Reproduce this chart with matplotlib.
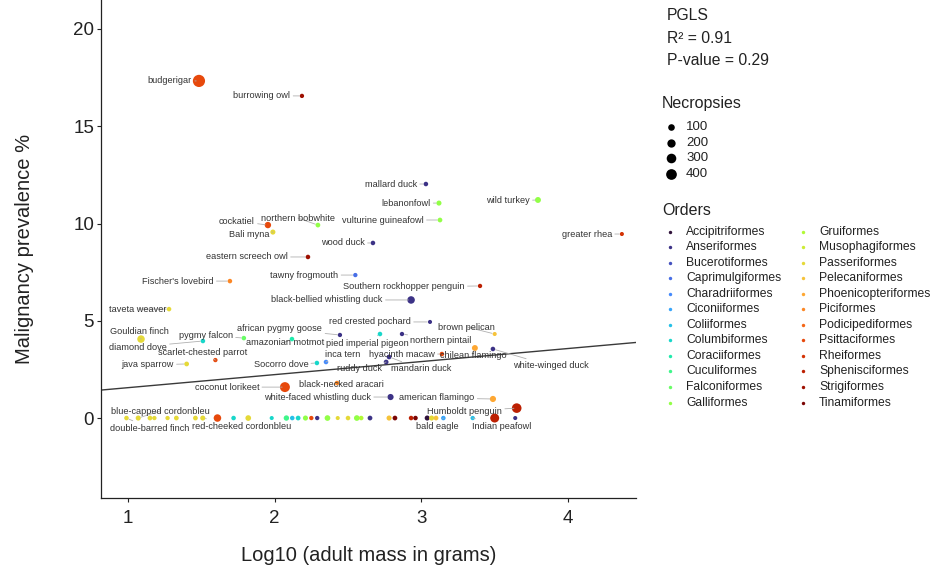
import numpy as np
import matplotlib
matplotlib.use("Agg")
import matplotlib.pyplot as plt

plt.rcParams['font.family'] = ['Liberation Sans', 'DejaVu Sans']

# ---------------- data ----------------
orders = ["Accipitriformes", "Anseriformes", "Bucerotiformes", "Caprimulgiformes",
          "Charadriiformes", "Ciconiiformes", "Coliiformes", "Columbiformes",
          "Coraciiformes", "Cuculiformes", "Falconiformes", "Galliformes",
          "Gruiformes", "Musophagiformes", "Passeriformes", "Pelecaniformes",
          "Phoenicopteriformes", "Piciformes", "Podicipediformes", "Psittaciformes",
          "Rheiformes", "Sphenisciformes", "Strigiformes", "Tinamiformes"]

species = ["budgerigar", "burrowing owl", "mallard duck", "lebanonfowl", "vulturine guineafowl",
           "wild turkey", "greater rhea", "cockatiel", "northern bobwhite", "Bali myna",
           "wood duck", "eastern screech owl", "Fischer's lovebird", "tawny frogmouth",
           "Southern rockhopper penguin", "black-bellied whistling duck", "taveta weaver",
           "red crested pochard", "brown pelican", "Gouldian finch", "pygmy falcon",
           "african pygmy goose", "diamond dove", "amazonian motmot", "pied imperial pigeon",
           "northern pintail", "scarlet-chested parrot", "java sparrow", "Socorro dove",
           "inca tern", "hyacinth macaw", "chilean flamingo", "ruddy duck", "mandarin duck",
           "white-winged duck", "black-necked aracari", "coconut lorikeet",
           "white-faced whistling duck", "american flamingo", "Humboldt penguin",
           # zero-prevalence row
           "double-barred finch", "blue-capped cordonbleu", "", "", "", "", "",
           "red-cheeked cordonbleu", "", "", "", "", "", "", "", "", "", "", "", "", "",
           "", "", "", "", "", "", "", "", "", "", "bald eagle", "Indian peafowl", ""]

log_mass = [1.484, 2.186, 3.031, 3.120, 3.127,
            3.795, 4.367, 1.954, 2.295, 1.988,
            2.670, 2.227, 1.695, 2.550,
            3.400, 2.930, 1.280,
            3.059, 3.500, 1.089, 1.790,
            2.445, 1.511, 2.118, 2.718,
            2.868, 1.596, 1.400, 2.288,
            2.350, 3.140, 3.365, 2.760, 2.780,
            3.488, 2.425, 2.070,
            2.790, 3.488, 3.650,
            0.990, 1.070, 1.150, 1.180, 1.270, 1.330, 1.460,
            1.510, 1.610, 1.720, 1.820, 1.980, 2.080, 2.120, 2.160, 2.210, 2.250, 2.290, 2.360,
            2.430, 2.500, 2.560, 2.590, 2.650, 2.780, 2.820, 2.930, 2.960, 3.040,
            3.070, 3.100, 3.150, 3.350, 3.500, 3.640]

prevalence = [17.33, 16.56, 12.03, 11.05, 10.18,
              11.21, 9.46, 9.92, 9.92, 9.56,
              9.00, 8.28, 7.04, 7.35,
              6.79, 6.07, 5.60,
              4.94, 4.32, 4.06, 4.11,
              4.27, 3.96, 4.06, 4.32,
              4.32, 2.98, 2.78, 2.83,
              2.88, 3.29, 3.60, 2.88, 3.14,
              3.55, 1.80, 1.59,
              1.08, 0.98, 0.51,
              0, 0, 0, 0, 0, 0, 0,
              0, 0, 0, 0, 0, 0, 0, 0, 0, 0, 0, 0,
              0, 0, 0, 0, 0, 0, 0, 0, 0, 0,
              0, 0, 0, 0, 0, 0]

necropsies = [560, 20, 25, 40, 30,
              70, 15, 90, 30, 40,
              25, 25, 25, 20,
              20, 150, 25,
              15, 15, 150, 25,
              20, 25, 25, 25,
              20, 20, 30, 25,
              25, 25, 70, 30, 30,
              25, 25, 330,
              80, 80, 300,
              25, 40, 30, 20, 20, 30, 30,
              40, 150, 25, 60, 15, 50, 25, 30, 40, 20, 20, 60,
              15, 25, 60, 25, 30, 40, 30, 25, 25, 40,
              40, 30, 25, 20, 250, 15]

species_order = ["Psittaciformes", "Strigiformes", "Anseriformes", "Galliformes", "Galliformes",
                 "Galliformes", "Rheiformes", "Psittaciformes", "Galliformes", "Passeriformes",
                 "Anseriformes", "Strigiformes", "Piciformes", "Caprimulgiformes",
                 "Sphenisciformes", "Anseriformes", "Passeriformes",
                 "Anseriformes", "Pelecaniformes", "Passeriformes", "Falconiformes",
                 "Anseriformes", "Columbiformes", "Coraciiformes", "Columbiformes",
                 "Anseriformes", "Psittaciformes", "Passeriformes", "Columbiformes",
                 "Charadriiformes", "Psittaciformes", "Phoenicopteriformes", "Anseriformes", "Anseriformes",
                 "Anseriformes", "Piciformes", "Psittaciformes",
                 "Anseriformes", "Phoenicopteriformes", "Sphenisciformes",
                 "Passeriformes", "Passeriformes", "Passeriformes", "Passeriformes", "Passeriformes",
                 "Passeriformes", "Passeriformes",
                 "Passeriformes", "Psittaciformes", "Columbiformes", "Passeriformes", "Columbiformes",
                 "Cuculiformes", "Coliiformes", "Columbiformes", "Galliformes", "Psittaciformes",
                 "Anseriformes", "Galliformes",
                 "Passeriformes", "Passeriformes", "Galliformes", "Gruiformes", "Anseriformes",
                 "Pelecaniformes", "Tinamiformes", "Sphenisciformes", "Tinamiformes", "Accipitriformes",
                 "Passeriformes", "Pelecaniformes", "Ciconiiformes", "Coliiformes", "Sphenisciformes",
                 "Anseriformes"]

pgls_intercept = 0.89
pgls_slope = 0.671
pgls_r2 = 0.91
pgls_p = 0.29
size_breaks = [100, 200, 300, 400]

# label offsets (pixels, from point to label centre)
label_offsets = {
    "budgerigar": (-29, 0), "burrowing owl": (-40, 0), "mallard duck": (-35, 0),
    "lebanonfowl": (-33, 0), "vulturine guineafowl": (-57, 0), "wild turkey": (-30, -1),
    "greater rhea": (-35, 0), "cockatiel": (-31, 4), "northern bobwhite": (-20, 7),
    "Bali myna": (-24, -2), "wood duck": (-30, 0), "eastern screech owl": (-61, 0),
    "Fischer's lovebird": (-52, 0), "tawny frogmouth": (-51, 0),
    "Southern rockhopper penguin": (-76, -1), "black-bellied whistling duck": (-84, 0),
    "taveta weaver": (-31, 0), "red crested pochard": (-60, 0), "brown pelican": (-28, 7),
    "Gouldian finch": (-2, 8), "pygmy falcon": (-38, 3), "african pygmy goose": (-60, 6),
    "diamond dove": (-65, -6), "amazonian motmot": (-7, -3), "pied imperial pigeon": (-13, -9),
    "northern pintail": (39, -6), "scarlet-chested parrot": (-13, 8), "java sparrow": (-39, -1),
    "Socorro dove": (-36, -2), "inca tern": (17, 8), "hyacinth macaw": (-40, 0),
    "chilean flamingo": (-2, -7), "ruddy duck": (-27, -6), "mandarin duck": (32, -12),
    "white-winged duck": (58, -17), "black-necked aracari": (4, -1),
    "coconut lorikeet": (-58, 0), "white-faced whistling duck": (-73, 0),
    "american flamingo": (-56, 1), "Humboldt penguin": (-52, -3),
    "blue-capped cordonbleu": (22, 7), "double-barred finch": (23, -10),
    "red-cheeked cordonbleu": (39, -8), "bald eagle": (-6, -8), "Indian peafowl": (29, -8),
}

# ---------------- styling ----------------
cmap = plt.get_cmap('turbo')
order_color = {o: cmap(i / (len(orders) - 1)) for i, o in enumerate(orders)}


def size_of(n):
    d_px = 2.5 + 0.41 * np.sqrt(np.asarray(n, dtype=float))
    return (d_px * 0.72) ** 2


fig = plt.figure(figsize=(9.34, 5.69), dpi=100)
ax = fig.add_axes([0.1081, 0.1248, 0.5728, 0.8752])

ax.set_xlim(0.816, 4.463)
ax.set_ylim(-4.11, 21.49)

xl = np.array(ax.get_xlim())
ax.plot(xl, pgls_intercept + pgls_slope * xl, color='#3a3a3a', lw=1.0, zorder=1)

cols = [order_color[o] for o in species_order]
ax.scatter(log_mass, prevalence, s=size_of(necropsies), c=cols, linewidths=0, zorder=3)

for name, x, y in zip(species, log_mass, prevalence):
    if not name:
        continue
    dx, dy = label_offsets.get(name, (0, 0))
    ax.annotate(name, xy=(x, y), xytext=(dx, dy), textcoords='offset pixels',
                ha='center', va='center', fontsize=6.6, color='#333333', zorder=4,
                arrowprops=dict(arrowstyle='-', color='#b0b0b0', lw=0.6,
                                shrinkA=0, shrinkB=2))

for side in ['top', 'right']:
    ax.spines[side].set_visible(False)
for side in ['left', 'bottom']:
    ax.spines[side].set_color('#222222')
    ax.spines[side].set_linewidth(0.9)

ax.set_xticks([1, 2, 3, 4])
ax.set_yticks([0, 5, 10, 15, 20])
ax.tick_params(axis='both', labelsize=13.5, colors='#222222', length=3, width=0.8)
ax.tick_params(axis='x', pad=6)
ax.tick_params(axis='y', pad=2)
ax.set_xlabel("Log10 (adult mass in grams)", fontsize=14.5, color='#222222', labelpad=13)
ax.set_ylabel("Malignancy prevalence %", fontsize=14.5, color='#222222', labelpad=28)

# ---------------- legends (pixel-space overlay) ----------------
leg = fig.add_axes([0, 0, 1, 1], facecolor='none')
leg.set_xlim(0, 934)
leg.set_ylim(569, 0)
leg.axis('off')

leg.text(667, 15, "PGLS", fontsize=11.3, color='#222222', va='center')
leg.text(667, 38, f"R\u00b2 = {pgls_r2:.2f}", fontsize=11.3, color='#222222', va='center')
leg.text(667, 60, f"P-value = {pgls_p:.2f}", fontsize=11.3, color='#222222', va='center')

leg.text(662, 103, "Necropsies", fontsize=11.5, color='#222222', va='center')
for i, b in enumerate(size_breaks):
    yy = 127 + i * 15.7
    leg.scatter([671], [yy], s=size_of(b), color='black', linewidths=0)
    leg.text(686, yy, str(b), fontsize=9.5, color='#222222', va='center')

leg.text(662, 210, "Orders", fontsize=11.5, color='#222222', va='center')
for i, o in enumerate(orders):
    col = i // 12
    row = i % 12
    xx = 670 + col * 133
    yy = 231.5 + row * 15.55
    leg.scatter([xx], [yy], s=size_of(5), color=order_color[o], linewidths=0)
    leg.text(xx + 16, yy, o, fontsize=8.7, color='#222222', va='center')

fig.savefig("out.png", dpi=100)
